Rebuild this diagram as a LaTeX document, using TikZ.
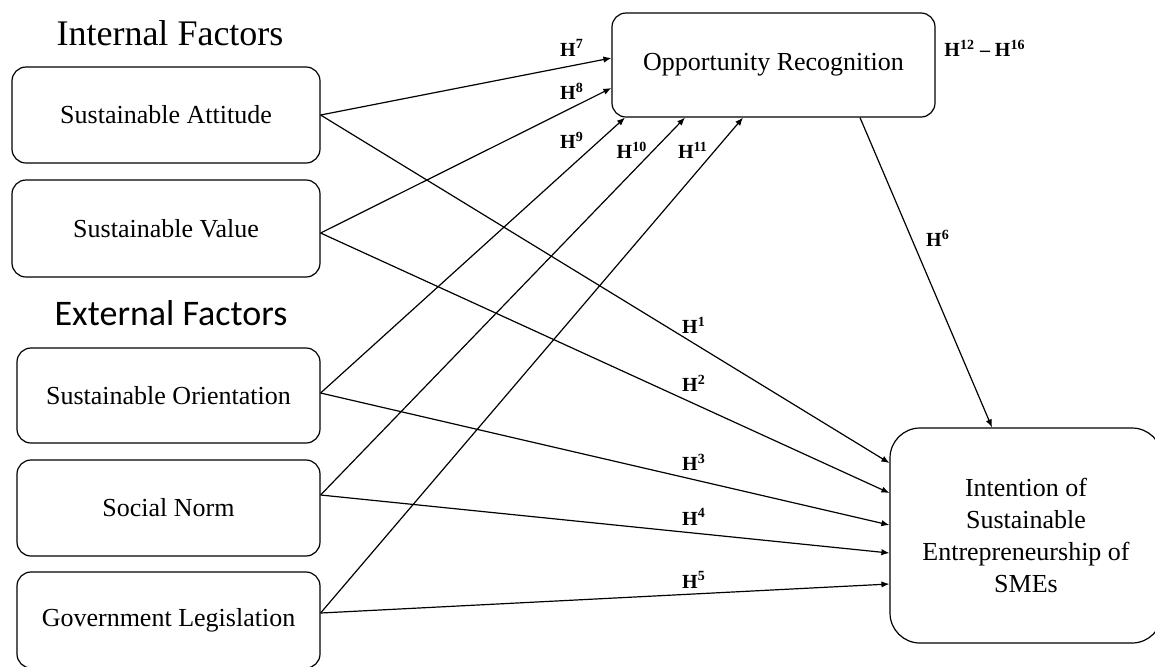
\documentclass[tikz,border=0pt]{standalone}
\usepackage{fontspec}
\setmainfont{Liberation Serif}
\newfontfamily\calibrifont{Carlito}
\usetikzlibrary{arrows.meta}

\tikzset{
	factor/.style={draw, line width=0.6pt, rounded corners=7pt, align=center, font=\fontsize{13}{16}\selectfont},
	hyp/.style={font=\fontsize{10}{12}\selectfont\bfseries, inner sep=1pt},
	heading/.style={font=\fontsize{18}{20}\selectfont},
	arr/.style={-{Latex[length=4pt,width=3.2pt]}, line width=0.6pt}
}

\begin{document}
\begin{tikzpicture}[x=0.5pt, y=-0.5pt]
				\useasboundingbox (0,0) rectangle (1155,666);
				
				% Headings
				\node[heading] (intern) at (170,33) {Internal Factors};
				\node[heading, font=\calibrifont\fontsize{18}{20}\selectfont] (extern) at (171,313) {External Factors};
				
				% Factor boxes
				\node[factor, minimum width=154pt, minimum height=48pt] (att) at (166,115) {Sustainable Attitude};
				\node[factor, minimum width=154pt, minimum height=48.5pt] (val) at (166,228.5) {Sustainable Value};
				\node[factor, minimum width=151.5pt, minimum height=47.5pt] (ori) at (168.5,395.5) {Sustainable Orientation};
				\node[factor, minimum width=151.5pt, minimum height=48pt] (norm) at (168.5,508) {Social Norm};
				\node[factor, minimum width=151.5pt, minimum height=48pt] (gov) at (168.5,620) {Government Legislation};
				
				% Mediator and outcome
				\node[factor, minimum width=161.5pt, minimum height=52pt] (opp) at (773.5,65) {Opportunity Recognition};
				\node[factor, rounded corners=15pt, minimum width=136pt, minimum height=107.5pt] (intent) at (1026,535.5) {Intention of\\Sustainable\\Entrepreneurship of\\SMEs};
				
				% Paths to opportunity recognition
				\draw[arr] (att.east) -- ([yshift=3.5pt]opp.west);
				\draw[arr] ([yshift=-2.25pt]val.east) -- ([yshift=-11.5pt]opp.west);
				\draw[arr] ([yshift=1.25pt]ori.east) -- ([xshift=-74.25pt]opp.south);
				\draw[arr] ([yshift=6.5pt]norm.east) -- ([xshift=-44.25pt]opp.south);
				\draw[arr] ([yshift=3.5pt]gov.east) -- ([xshift=-15.25pt]opp.south);
				
				% Paths to intention
				\draw[arr] (att.east) -- ([yshift=36.25pt]intent.west);
				\draw[arr] ([yshift=-2.25pt]val.east) -- ([yshift=21.25pt]intent.west);
				\draw[arr] ([yshift=1.25pt]ori.east) -- ([yshift=5.25pt]intent.west);
				\draw[arr] ([yshift=6.5pt]norm.east) -- ([yshift=-8.75pt]intent.west);
				\draw[arr] ([yshift=3.5pt]gov.east) -- ([yshift=-24.25pt]intent.west);
				\draw[arr] ([xshift=43.25pt]opp.south) -- ([xshift=-17pt]intent.north);
				
				% Hypothesis labels
				\node[hyp] (h7) at (572,48) {H\textsuperscript{7}};
				\node[hyp] (h8) at (572,91) {H\textsuperscript{8}};
				\node[hyp] (h9) at (572,140) {H\textsuperscript{9}};
				\node[hyp] (h10) at (632,150) {H\textsuperscript{10}};
				\node[hyp] (h11) at (693,150) {H\textsuperscript{11}};
				\node[hyp] (h12) at (985,48) {H\textsuperscript{12} -- H\textsuperscript{16}};
				\node[hyp] (h6) at (938,238) {H\textsuperscript{6}};
				\node[hyp] (h1) at (694,325) {H\textsuperscript{1}};
				\node[hyp] (h2) at (694,383) {H\textsuperscript{2}};
				\node[hyp] (h3) at (694,462) {H\textsuperscript{3}};
				\node[hyp] (h4) at (694,517) {H\textsuperscript{4}};
				\node[hyp] (h5) at (694,580) {H\textsuperscript{5}};
			\end{tikzpicture}
\end{document}
